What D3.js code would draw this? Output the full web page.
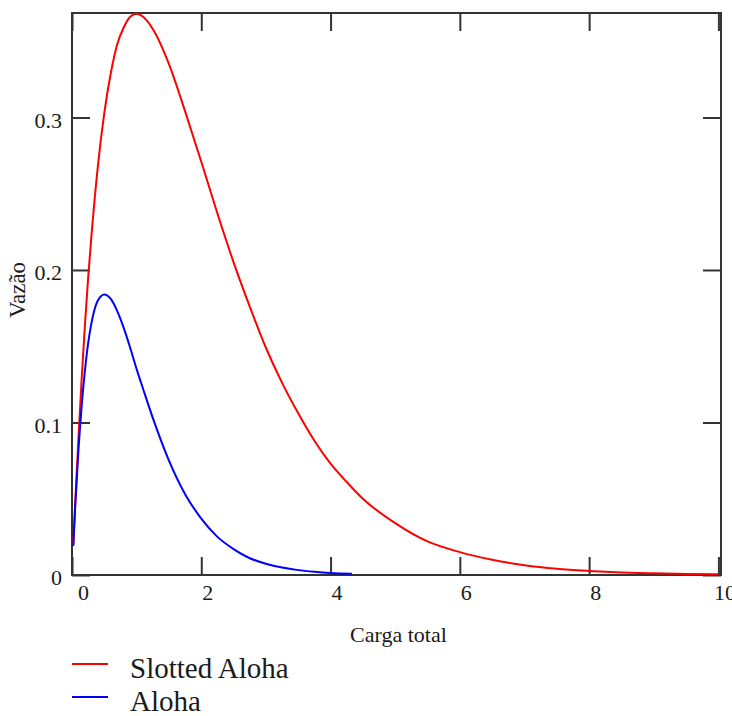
<!DOCTYPE html>
<html>
<head>
<meta charset="utf-8">
<script src="https://cdn.jsdelivr.net/npm/d3@7"></script>
<style>
    body { margin: 0; background: #fff; }
    text { font-family: "Liberation Serif", "Times New Roman", serif; fill: #1a1a1a; }
</style>
</head>
<body>
<div id="chart"></div>
<script>
(function () {
    "use strict";

    const carga = [0.02, 0.05, 0.1, 0.15, 0.2, 0.25, 0.3, 0.4, 0.5, 0.6, 0.7, 0.8, 0.9, 1.0, 1.1, 1.25,
        1.5, 1.75, 2, 2.25, 2.5, 2.75, 3, 3.25, 3.5, 3.75, 4, 4.25, 4.5, 5, 5.5, 6, 6.5, 7, 7.5, 8,
        8.5, 9, 9.5, 10];

    const slottedAloha = [0.020, 0.048, 0.090, 0.129, 0.164, 0.195, 0.222, 0.268, 0.303, 0.329, 0.348,
        0.359, 0.366, 0.368, 0.366, 0.358, 0.335, 0.304, 0.271, 0.237, 0.205, 0.176, 0.149, 0.126,
        0.106, 0.088, 0.073, 0.061, 0.050, 0.034, 0.022, 0.015, 0.010, 0.0064, 0.0041, 0.0027,
        0.0017, 0.0011, 0.0007, 0.0005];

    const cargaAloha = [0.02, 0.05, 0.1, 0.15, 0.2, 0.25, 0.3, 0.4, 0.5, 0.6, 0.7, 0.8, 0.9, 1.0, 1.1,
        1.25, 1.5, 1.75, 2, 2.25, 2.5, 2.75, 3, 3.25, 3.5, 3.75, 4, 4.33];

    const aloha = [0.019, 0.045, 0.082, 0.111, 0.134, 0.152, 0.165, 0.180, 0.184, 0.181, 0.173, 0.162,
        0.149, 0.135, 0.122, 0.103, 0.075, 0.053, 0.037, 0.025, 0.017, 0.011, 0.0074, 0.0049,
        0.0032, 0.0021, 0.0013, 0.0008];

    const xTicks = [0, 2, 4, 6, 8, 10];
    const yTicks = [0, 0.1, 0.2, 0.3];

    const legendNames = ["Slotted Aloha", "Aloha"];
    const colors = ["#ff0000", "#0000ff"];

    const containerWidth = 732;
    const containerHeight = 716;
    const margin = { top: 13, right: 11, bottom: 141, left: 72 };
    const width = containerWidth - margin.left - margin.right;
    const height = containerHeight - margin.top - margin.bottom;
    const tickLength = 18;
    const axisColor = "#333";

    const svg = d3.select("#chart").append("svg")
        .attr("width", containerWidth)
        .attr("height", containerHeight);

    const canvas = svg.append("g")
        .attr("transform", `translate(${margin.left},${margin.top})`);

    const xScale = d3.scaleLinear()
        .domain([0, 10.04])
        .range([0, width]);

    const yScale = d3.scaleLinear()
        .domain([0, 0.3685])
        .range([height, 0]);

    const styleAxis = function (g) {
        g.select(".domain").remove();
        g.selectAll(".tick line")
            .attr("stroke", axisColor)
            .attr("stroke-width", 2);
        g.selectAll(".tick text")
            .style("font-size", "22px");
    };

    // bottom axis, ticks pointing inward
    canvas.append("g")
        .attr("transform", `translate(0,${height})`)
        .call(d3.axisBottom(xScale)
            .tickValues(xTicks)
            .tickSize(-tickLength)
            .tickPadding(9)
            .tickFormat(d3.format("d")))
        .call(styleAxis)
        .selectAll(".tick text")
        .attr("dx", d => d === 0 ? 11 : 6);

    canvas.append("g")
        .call(d3.axisTop(xScale)
            .tickValues(xTicks)
            .tickSize(-tickLength)
            .tickFormat(""))
        .call(styleAxis);

    canvas.append("g")
        .call(d3.axisLeft(yScale)
            .tickValues(yTicks)
            .tickSize(-tickLength)
            .tickPadding(10)
            .tickFormat(d => d === 0 ? "0" : d3.format(".1f")(d)))
        .call(styleAxis)
        .selectAll(".tick text")
        .attr("dy", "0.45em");

    canvas.append("g")
        .attr("transform", `translate(${width},0)`)
        .call(d3.axisRight(yScale)
            .tickValues(yTicks)
            .tickSize(-tickLength)
            .tickFormat(""))
        .call(styleAxis);

    // frame
    canvas.append("rect")
        .attr("width", width)
        .attr("height", height)
        .attr("fill", "none")
        .attr("stroke", axisColor)
        .attr("stroke-width", 2);

    const series = [
        { x: carga, y: slottedAloha },
        { x: cargaAloha, y: aloha }
    ];

    series.forEach((s, i) => {
        const points = s.x.map((g, j) => [g, s.y[j]]);
        const line = d3.line()
            .x(d => xScale(d[0]))
            .y(d => yScale(d[1]))
            .curve(d3.curveMonotoneX);

        canvas.append("path")
            .attr("d", line(points))
            .attr("fill", "none")
            .attr("stroke", colors[i])
            .attr("stroke-width", 2);
    });

    // axis titles
    svg.append("text")
        .attr("x", margin.left + xScale(5.05))
        .attr("y", 642)
        .attr("text-anchor", "middle")
        .style("font-size", "22px")
        .text("Carga total");

    svg.append("text")
        .attr("transform", "translate(25,290) rotate(-90)")
        .attr("text-anchor", "middle")
        .style("font-size", "23px")
        .text("Vazão");

    // legend
    const legend = svg.append("g")
        .attr("transform", "translate(72,664)");

    legendNames.forEach((name, i) => {
        const row = legend.append("g")
            .attr("transform", `translate(0,${i * 33})`);

        row.append("line")
            .attr("x1", 0)
            .attr("x2", 36)
            .attr("stroke", colors[i])
            .attr("stroke-width", 2);

        row.append("text")
            .attr("x", 58)
            .attr("y", 14)
            .style("font-size", "29px")
            .text(name);
    });
}());
</script>
</body>
</html>
